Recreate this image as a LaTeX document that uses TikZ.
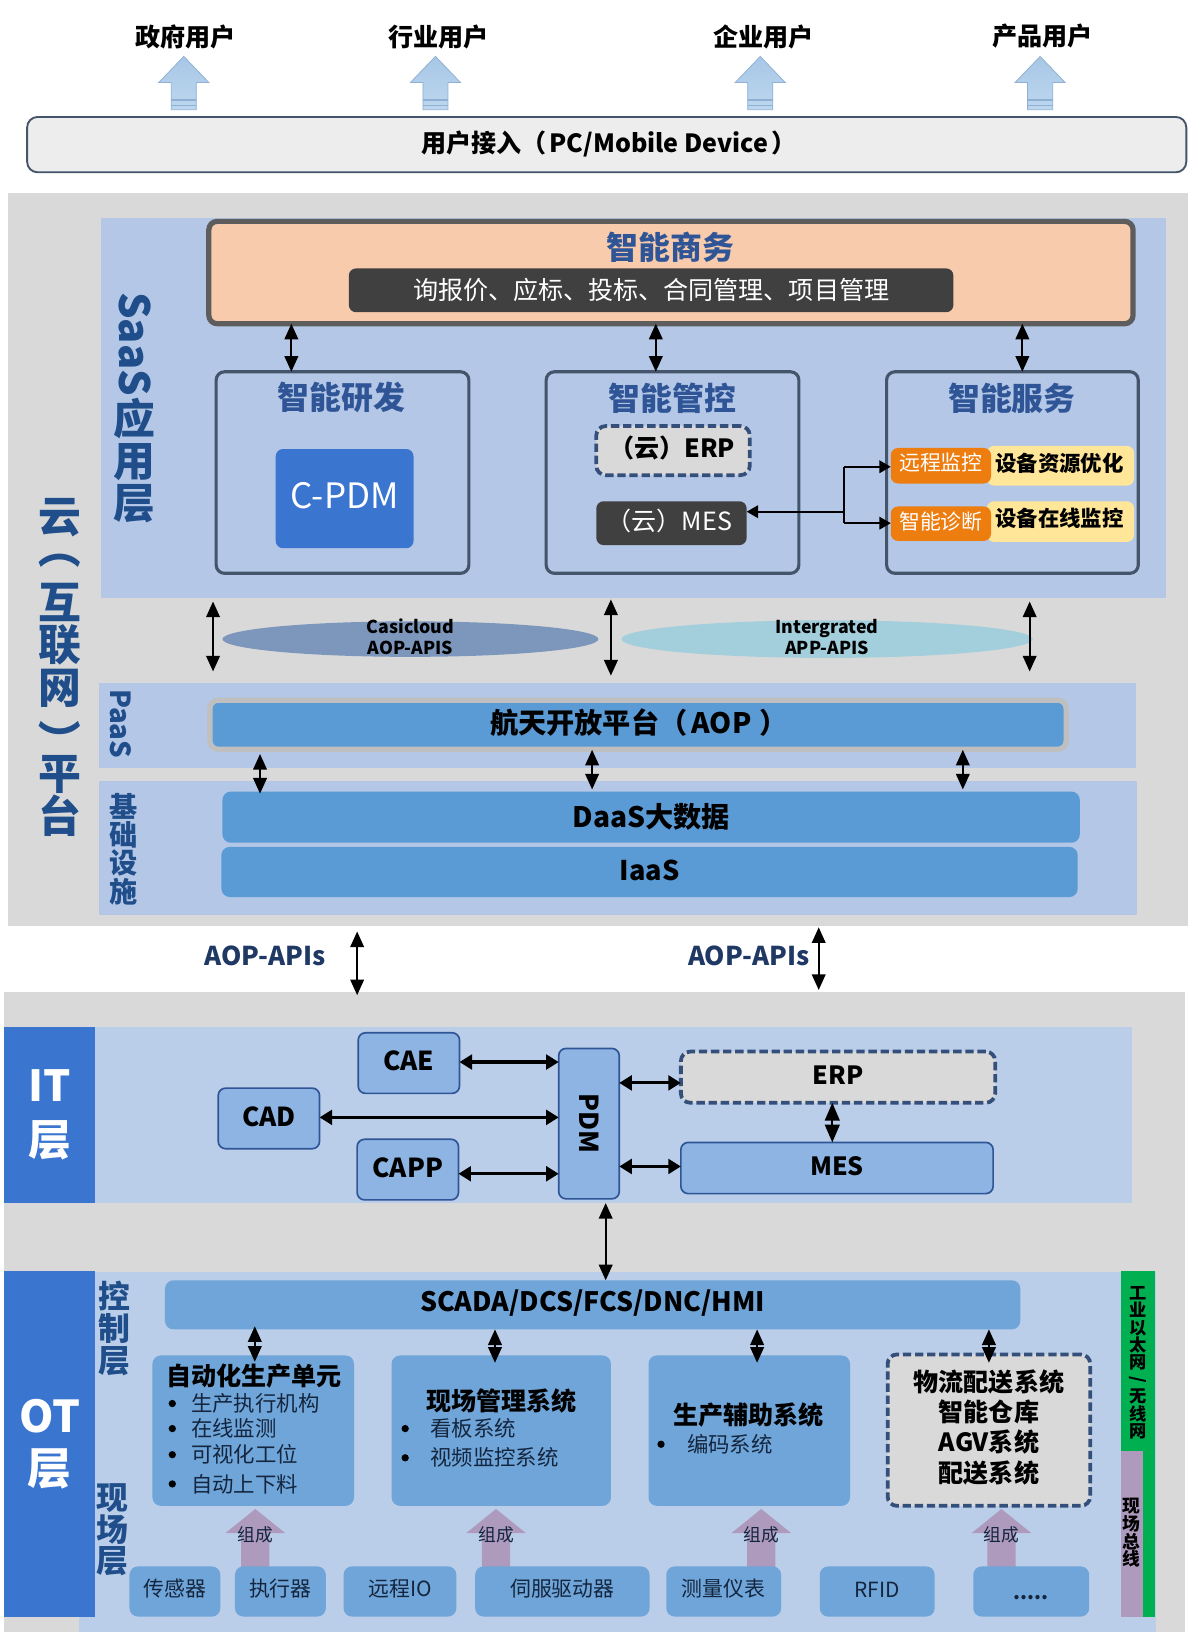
\documentclass[tikz,border=0pt]{standalone}
\usepackage{fontspec}
\setmainfont{Noto Sans CJK SC}
\usetikzlibrary{arrows.meta,shapes.geometric,calc}
\definecolor{gpanel}{HTML}{D9D9D9}
\definecolor{saasbg}{HTML}{B4C7E7}
\definecolor{itbg}{HTML}{BACEE9}
\definecolor{tblue}{HTML}{2F5597}
\definecolor{vblue}{HTML}{1F4E8A}
\definecolor{dk}{HTML}{404040}
\definecolor{slate}{HTML}{44546A}
\definecolor{dash}{HTML}{34507A}
\definecolor{midblue}{HTML}{5B9BD5}
\definecolor{softblue}{HTML}{6FA5D8}
\definecolor{itbox}{HTML}{8EB4E3}
\definecolor{royal}{HTML}{3A75D0}
\definecolor{orng}{HTML}{ED7D0F}
\definecolor{yel}{HTML}{FFE699}
\definecolor{pch}{HTML}{F8CBAD}
\definecolor{purp}{HTML}{AE9ABD}
\definecolor{grn}{HTML}{00B050}
\definecolor{bodytxt}{HTML}{14263F}
\definecolor{hdtop}{HTML}{A7C7E7}
\definecolor{hdbot}{HTML}{BDD7EE}
\definecolor{hdline}{HTML}{8FB0D2}
\definecolor{barfill}{HTML}{EDEDED}
\definecolor{ell1}{HTML}{7C96BC}
\definecolor{ell2}{HTML}{A3CFDC}
\definecolor{aopedge}{HTML}{BFBFBF}
\definecolor{apitxt}{HTML}{1F3864}
\newcommand\fs[1]{\fontsize{#1}{#1}\selectfont}
\newcommand\bfs[1]{\fontsize{#1}{#1}\selectfont\bfseries}
\newcommand\vparenL{\smash{\raisebox{.25em}{\rotatebox[origin=c]{-90}{（}}}}
\newcommand\vparenR{\smash{\raisebox{-.25em}{\rotatebox[origin=c]{-90}{）}}}}
\newcommand\lift[1]{\rule[-#1pt]{0pt}{1pt}}
\newcommand\bx[7]{\node[#6,minimum width={(#4)-(#2)},minimum height={(#5)-(#3)}] (#1) at ({(#2+#4)/2},{(#3+#5)/2}) {#7};}
\newcommand\userarrow[1]{%
  \path[top color=hdtop,bottom color=hdbot,draw=hdline,line width=.7pt]
    (#1,54) -- (#1+24,79) -- (#1+12,79) -- (#1+12,105) -- (#1-12,105) -- (#1-12,79) -- (#1-24,79) -- cycle;
  \draw[stripe] (#1-12,96) -- (#1+12,96);
  \draw[stripe] (#1-12,101) -- (#1+12,101);}
\newcommand\fatarrow[2]{%
  \fill[purp] (#1,1445) -- (#1+28.5,1468) -- (#1+13.5,1468) -- (#1+13.5,1501) -- (#1-13.5,1501) -- (#1-13.5,1468) -- (#1-28.5,1468) -- cycle;
  \node[text=bodytxt,font=\fs{17},inner sep=0] (#2) at (#1,1470) {组成};}
\tikzset{
  x=1pt,y=-1pt,
  base/.style={inner sep=0,outer sep=0,align=center},
  stripe/.style={draw=hdline,line width=1.6pt},
  roundbox/.style={base,rounded corners=7pt},
  group/.style={base,rounded corners=8pt,draw=slate,line width=3pt},
  dashbox/.style={base,rounded corners=9pt,fill=gpanel,draw=dash,line width=3.6pt,dash pattern=on 8pt off 3.6pt},
  itnode/.style={base,rounded corners=7pt,fill=itbox,draw=tblue,line width=1.6pt,font=\bfs{25}},
  softnode/.style={base,rounded corners=8pt,fill=softblue},
  fieldnode/.style={softnode,font=\fs{20},text=bodytxt},
  blue24/.style={base,rounded corners=8pt,fill=midblue},
  dbl/.style={{Triangle[length=15pt,width=13pt]}-{Triangle[length=15pt,width=13pt]},line width=2pt,black},
  dblt/.style={{Triangle[length=12pt,width=14pt]}-{Triangle[length=12pt,width=14pt]},line width=3pt,black},
  sgl/.style={-{Triangle[length=11pt,width=12pt]},line width=2pt,black},
  lbl/.style={inner sep=0,outer sep=0,align=center},
  bul/.style={lbl,anchor=west,font=\fs{20.5},text=bodytxt},
}
\begin{document}
\begin{tikzpicture}
\useasboundingbox (0,0) rectangle (1141.5,1567.6);
\fill[white] (0,0) rectangle (1141.5,1567.6);

% user layer
\node[lbl,font=\bfs{24}] (u1) at (178,35) {政府用户};
\node[lbl,font=\bfs{24}] (u2) at (420,35) {行业用户};
\node[lbl,font=\bfs{24}] (u3) at (731,35) {企业用户};
\node[lbl,font=\bfs{24}] (u4) at (998.5,35) {产品用户};
\userarrow{176}\userarrow{417}\userarrow{728}\userarrow{996}
\bx{ubar}{26}{112}{1136}{165}{base,rounded corners=10pt,fill=barfill,draw=slate,line width=1.8pt}{}
\node[lbl,font=\bfs{24}] (utxt) at (583,138) {用户接入（\kern3pt PC/Mobile Device\kern3pt ）};

% cloud panels
\bx{cloud}{8}{185}{1138}{887}{base,fill=gpanel}{}
\bx{saas}{97}{209}{1117}{573}{base,fill=saasbg}{}
\bx{paas}{95}{654}{1088}{735}{base,fill=saasbg}{}
\bx{infra}{95}{748}{1089}{876}{base,fill=saasbg}{}
\node[lbl,font=\bfs{41},text=vblue] (cloudt) at (57,639) {云\\\vparenL\\互\\联\\网\\\vparenR\\平\\台};
\node[lbl,font=\bfs{40},text=vblue] (saast) at (129,390) {\rotatebox[origin=c]{-90}{SaaS}\\[1pt]应\\用\\层};
\node[lbl,font=\bfs{26.5},text=vblue,rotate=-90] (paast) at (116,693) {PaaS};
\node[lbl,font=\bfs{27},text=vblue] (infrat) at (118,813) {基\\础\\设\\施};

% business
\bx{biz}{200}{212}{1085}{310}{base,rounded corners=8pt,fill=pch,draw=dk!85!white,line width=5pt}{}
\node[lbl,font=\bfs{30.5},text=tblue] (bizt) at (642,237) {智能商务};
\bx{bizd}{334}{257}{913}{299}{roundbox,fill=dk,text=white,font=\fs{24}}{询报价、应标、投标、合同管理、项目管理}

% three groups
\bx{rd}{207}{356}{449}{549}{group}{}
\bx{ctl}{523}{356}{765}{549}{group}{}
\bx{svc}{849}{356}{1090}{549}{group}{}
\node[lbl,font=\bfs{30.5},text=tblue] (rdt) at (327,381) {智能研发};
\node[lbl,font=\bfs{30.5},text=tblue] (ctlt) at (644,381) {智能管控};
\node[lbl,font=\bfs{30.5},text=tblue] (svct) at (969,381) {智能服务};
\bx{cpdm}{264}{430}{396}{525}{roundbox,fill=royal,text=white,font=\fs{33.5}}{\lift{6}C-PDM}
\bx{cerp}{571}{408}{718}{455}{dashbox,font=\bfs{24}}{\kern-2pt（云）ERP\lift{8}}
\bx{cmes}{571}{480}{715}{522}{roundbox,fill=dk,text=white,font=\fs{24}}{\kern-4pt（云）MES\lift{7}}
\bx{y1}{945}{427}{1086}{465}{roundbox,fill=yel}{}
\bx{y2}{945}{480}{1086}{519}{roundbox,fill=yel}{}
\bx{o1}{853}{429}{949}{463}{roundbox,fill=orng,text=white,font=\fs{20}}{远程监控\lift{8}}
\bx{o2}{853}{485}{949}{518}{roundbox,fill=orng,text=white,font=\fs{20}}{智能诊断\lift{6}}
\node[lbl,font=\bfs{20.5}] (y1t) at (1014.5,444) {设备资源优化};
\node[lbl,font=\bfs{20.5}] (y2t) at (1014.5,496) {设备在线监控};

\coordinate (j0) at (808,490);
\coordinate (j1) at (808,447);
\coordinate (j2) at (808,501);
\draw[line width=2pt] (j1) -- (j2);
\draw[sgl] (j0) -- (cmes.east |- j0);
\draw[sgl] (j1) -- (o1.west |- j1);
\draw[sgl] (j2) -- (o2.west |- j2);

\coordinate (a1) at (279,0);\coordinate (a2) at (628,0);\coordinate (a3) at (979,0);
\draw[dbl] (a1 |- biz.south) -- (a1 |- rd.north);
\draw[dbl] (a2 |- biz.south) -- (a2 |- ctl.north);
\draw[dbl] (a3 |- biz.south) -- (a3 |- svc.north);

% APIs
\node[ellipse,base,fill=ell1,minimum width=360,minimum height=34] (e1) at (393,612) {};
\node[ellipse,base,fill=ell2,minimum width=394,minimum height=36] (e2) at (792,612) {};
\node[lbl,font=\bfseries\fontsize{17}{20}\selectfont] (e1t) at (393,610) {Casicloud\\AOP-APIS};
\node[lbl,font=\bfseries\fontsize{17}{20}\selectfont] (e2t) at (792,610) {Intergrated\\APP-APIS};
\coordinate (b1) at (204,0);\coordinate (b2) at (585,0);\coordinate (b3) at (986,0);
\draw[dbl,shorten <=3pt,shorten >=11pt] (b1 |- saas.south) -- (b1 |- paas.north);
\draw[dbl,shorten <=1pt,shorten >=7pt] (b2 |- saas.south) -- (b2 |- paas.north);
\draw[dbl,shorten <=3pt,shorten >=11pt] (b3 |- saas.south) -- (b3 |- paas.north);

% PaaS / infra
\bx{aop}{201}{670.5}{1021}{717.5}{base,rounded corners=8pt,fill=midblue,draw=aopedge,line width=5pt}{}
\node[lbl,font=\bfs{27}] (aopt) at (612,692) {航天开放平台（\kern4pt AOP\kern8pt ）};
\bx{daas}{213}{758}{1034}{807}{blue24,font=\bfs{27}}{DaaS大数据\lift{2}}
\bx{iaas}{212}{811}{1032}{859}{blue24,font=\bfs{26}}{\lift{4}IaaS}
\coordinate (c1) at (249,0);\coordinate (c2) at (567,0);\coordinate (c3) at (922,0);
\draw[dbl] (c1 |- 0,722) -- (c1 |- 0,760);
\draw[dbl] (c2 |- 0,718) -- (c2 |- 0,756);
\draw[dbl] (c3 |- 0,718) -- (c3 |- 0,756);

% lower panel
\bx{lower}{4}{950}{1135}{1563}{base,fill=gpanel}{}
\node[lbl,font=\bfs{24.8},text=apitxt] (api1) at (254,915) {AOP-APIs};
\node[lbl,font=\bfs{24.8},text=apitxt] (api2) at (717,915) {AOP-APIs};
\coordinate (d1) at (342,0);\coordinate (d2) at (784,0);
\draw[dbl] (d1 |- 0,892) -- (d1 |- 0,953);
\draw[dbl] (d2 |- 0,888) -- (d2 |- 0,948);

% IT
\bx{itbg}{91}{983}{1084}{1152}{base,fill=itbg}{}
\bx{itl}{4}{983}{91}{1152}{base,fill=royal,text=white,font=\bfs{41}}{IT\\[10pt]层}
\bx{cae}{343}{989}{440}{1047}{itnode}{\lift{4}CAE}
\bx{cad}{209}{1042}{306}{1100}{itnode}{\lift{4}CAD}
\bx{capp}{342}{1091}{439}{1149}{itnode}{\lift{4}CAPP}
\bx{pdm}{535}{1004}{593}{1148}{itnode}{\rotatebox[origin=c]{-90}{PDM}}
\bx{erp}{652}{1007}{953}{1056}{dashbox,font=\bfs{24}}{\lift{4}ERP}
\bx{mes}{652}{1094}{951}{1143}{itnode,font=\bfs{24}}{\lift{4}MES}
\coordinate (h1) at (0,1017);\coordinate (h2) at (0,1070);\coordinate (h3) at (0,1124);\coordinate (h4) at (0,1037);\coordinate (h5) at (0,1117);
\draw[dblt] (cae.east |- h1) -- (pdm.west |- h1);
\draw[dblt] (cad.east |- h2) -- (pdm.west |- h2);
\draw[dblt] (capp.east |- h3) -- (pdm.west |- h3);
\draw[dblt] (pdm.east |- h4) -- (erp.west |- h4);
\draw[dblt] (pdm.east |- h5) -- (mes.west |- h5);
\coordinate (e5) at (797,0);
\draw[dbl,{Triangle[length=17pt,width=14pt]}-{Triangle[length=17pt,width=14pt]}] (e5 |- erp.south) -- (e5 |- mes.north);

% OT
\bx{otbg}{76}{1218}{1107}{1563}{base,fill=itbg}{}
\bx{otl}{4}{1217}{91}{1548.5}{base,fill=royal,text=white,font=\bfs{42}}{OT\\[8pt]层}
\bx{eth}{1073}{1217}{1106}{1548.5}{base,fill=grn}{}
\bx{fld}{1073}{1389}{1095}{1548.5}{base,fill=purp}{}
\node[lbl,font=\bfs{16.5}] (etht) at (1090,1305) {工\\业\\以\\太\\网\\\rotatebox[origin=c]{-90}{/}\\无\\线\\网};
\node[lbl,font=\bfs{17}] (fldt) at (1083,1468) {现\\场\\总\\线};
\node[lbl,font=\bfs{30.5},text=vblue] (ctlv) at (110,1272) {控\\制\\层};
\node[lbl,font=\bfs{30.5},text=vblue] (fldv) at (108,1465) {现\\场\\层};
\bx{scada}{158}{1226}{977}{1273}{softnode,font=\bfs{25.6}}{SCADA/DCS/FCS/DNC/HMI\lift{8}}

\bx{s1}{146}{1298}{339}{1442}{softnode}{}
\bx{s2}{375}{1298}{585}{1442}{softnode}{}
\bx{s3}{621}{1298}{814}{1442}{softnode}{}
\bx{s4}{850}{1297}{1044}{1442}{dashbox,font=\bfseries\fontsize{24}{29}\selectfont}{物流配送系统\\智能仓库\\AGV系统\\配送系统\lift{8}}
\node[lbl,font=\bfs{24}] (s1t) at (243,1318) {自动化生产单元};
\node[lbl,font=\bfs{24}] (s2t) at (480,1342) {现场管理系统};
\node[lbl,font=\bfs{24}] (s3t) at (717,1355) {生产辅助系统};
\foreach \n/\dx/\tx/\ty/\t in {b11/165/183/1344/生产执行机构,b12/165/183/1368/在线监测,b13/165/183/1393/可视化工位,b14/165/183/1421/自动上下料,b21/388/412/1368/看板系统,b22/388/412/1396/视频监控系统,b31/633/658/1383/编码系统}{
  \fill (\dx,\ty) circle (3.5);
  \node[bul] (\n) at (\tx,\ty) {\t};
}
\coordinate (k1) at (244,0);\coordinate (k2) at (474,0);\coordinate (k3) at (725,0);\coordinate (k4) at (947,0);
\draw[dbl,shorten <=-3pt] (k1 |- scada.south) -- (k1 |- 0,1304);
\draw[dbl] (k2 |- scada.south) -- (k2 |- 0,1305);
\draw[dbl] (k3 |- scada.south) -- (k3 |- 0,1305);
\draw[dbl] (k4 |- scada.south) -- (k4 |- 0,1305);
\coordinate (m1) at (580,0);
\draw[dbl] (m1 |- itbg.south) -- (m1 |- scada.north);

\fatarrow{244.5}{g1}\fatarrow{475}{g2}\fatarrow{729}{g3}\fatarrow{959}{g4}
\bx{f1}{124}{1500}{211}{1548}{fieldnode}{\lift{7}传感器}
\bx{f2}{225}{1500}{312}{1548}{fieldnode}{\lift{7}执行器}
\bx{f3}{329}{1500}{437}{1548}{fieldnode}{\lift{7}远程IO}
\bx{f4}{455}{1500}{622}{1548}{fieldnode}{\lift{7}伺服驱动器}
\bx{f5}{638}{1500}{748}{1548}{fieldnode}{\lift{7}测量仪表}
\bx{f6}{785}{1500}{895}{1548}{fieldnode}{\lift{4}RFID}
\bx{f7}{932}{1500}{1043}{1548}{fieldnode,font=\bfs{19}}{\rule{0pt}{16pt}.....}
\end{tikzpicture}
\end{document}
